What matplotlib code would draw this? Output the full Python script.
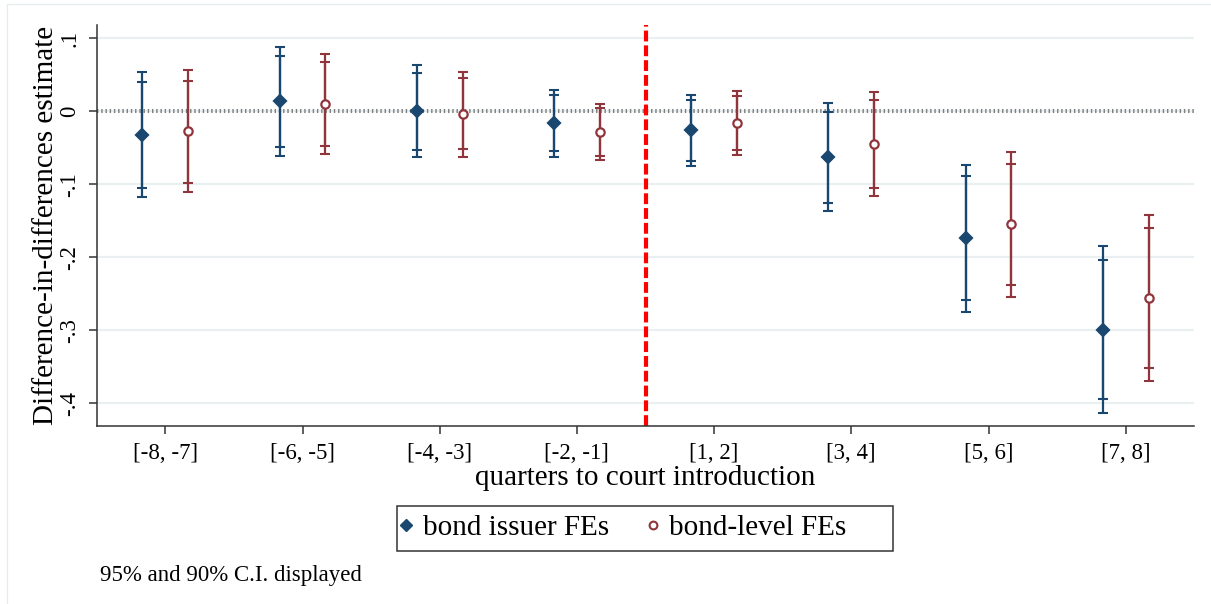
import matplotlib.pyplot as plt
import numpy as np
from matplotlib.patches import Rectangle
from matplotlib.lines import Line2D

plt.rcParams['font.family'] = ['Liberation Serif', 'DejaVu Serif']

periods = ["[-8, -7]", "[-6, -5]", "[-4, -3]", "[-2, -1]", "[1, 2]", "[3, 4]", "[5, 6]", "[7, 8]"]

# bond issuer FEs: point estimate, 90% and 95% bounds
issuer_b = [-0.032, 0.014, 0.000, -0.016, -0.026, -0.062, -0.174, -0.299]
issuer_lo90 = [-0.105, -0.049, -0.053, -0.054, -0.068, -0.125, -0.259, -0.394]
issuer_hi90 = [0.040, 0.076, 0.053, 0.022, 0.015, -0.001, -0.089, -0.203]
issuer_lo95 = [-0.118, -0.061, -0.063, -0.062, -0.075, -0.137, -0.275, -0.413]
issuer_hi95 = [0.054, 0.088, 0.064, 0.029, 0.022, 0.011, -0.073, -0.185]

# bond-level FEs
level_b = [-0.027, 0.010, -0.004, -0.029, -0.016, -0.045, -0.155, -0.256]
level_lo90 = [-0.098, -0.048, -0.052, -0.061, -0.053, -0.105, -0.238, -0.352]
level_hi90 = [0.042, 0.067, 0.045, 0.004, 0.021, 0.015, -0.072, -0.160]
level_lo95 = [-0.111, -0.058, -0.062, -0.067, -0.060, -0.116, -0.254, -0.369]
level_hi95 = [0.056, 0.079, 0.054, 0.010, 0.028, 0.026, -0.056, -0.142]

blue = '#1a476f'
red = '#90353b'

W, H = 1211, 604
fig = plt.figure(figsize=(W / 100, H / 100), dpi=100)
ax = fig.add_axes([0.0799, 0.2947, 0.9063, 0.6631])

x = np.arange(1, len(periods) + 1)
off = 0.167

ax.axhline(0, color='#7f7f7f', lw=2.9, ls=(0, (0.35, 0.7)), zorder=1)
ax.axvline(4.5, color='#ff0000', lw=3.0, ls=(0, (2.6, 0.95)), zorder=2)


def ci_plot(xs, b, lo90, hi90, lo95, hi95, color, marker, face, ms):
    b = np.array(b)
    for lo, hi in [(lo95, hi95), (lo90, hi90)]:
        err = [b - np.array(lo), np.array(hi) - b]
        ax.errorbar(xs, b, yerr=err, fmt='none', ecolor=color, elinewidth=1.6,
                    capsize=3.6, capthick=1.5, zorder=3)
    ax.plot(xs, b, ls='none', marker=marker, ms=ms,
            mfc=face, mec=color, mew=1.6, zorder=4)


ci_plot(x - off, issuer_b, issuer_lo90, issuer_hi90, issuer_lo95, issuer_hi95, blue, 'D', blue, 6.6)
ci_plot(x + off, level_b, level_lo90, level_hi90, level_lo95, level_hi95, red, 'o', 'white', 6.0)

ax.set_xlim(0.5, 8.5)
ax.set_ylim(-0.431, 0.1175)
ax.set_xticks(x)
ax.set_xticklabels(periods, fontsize=16.5)
yt = [0.1, 0, -0.1, -0.2, -0.3, -0.4]
ax.set_yticks(yt)
ax.set_yticklabels(['.1', '0', '-.1', '-.2', '-.3', '-.4'], fontsize=16.5,
                   rotation=90, va='center')
ax.yaxis.grid(True, color='#eaf0f2', lw=1.6)
ax.set_axisbelow(True)
for s in ['top', 'right']:
    ax.spines[s].set_visible(False)
for s in ['left', 'bottom']:
    ax.spines[s].set_color('#333333')
    ax.spines[s].set_linewidth(1.1)
ax.tick_params(axis='both', length=6, width=1.1, color='#333333')
ax.tick_params(axis='x', pad=6)
ax.tick_params(axis='y', pad=6)

ax.set_xlabel('quarters to court introduction', fontsize=21, labelpad=1)
ax.set_ylabel('Difference-in-differences estimate', fontsize=21, labelpad=0)

# legend box drawn by hand: Stata leaves extra room on the right
fig.add_artist(Rectangle((397 / W, 1 - 551 / H), 496 / W, 45 / H,
                         transform=fig.transFigure, fill=False,
                         edgecolor='#333333', lw=1.1))
ly = 1 - 528 / H
fig.add_artist(Line2D([406 / W], [ly + 3 / H], transform=fig.transFigure, ls='none',
                      marker='D', ms=6.4, mfc=blue, mec=blue))
fig.text(423 / W, ly, 'bond issuer FEs', fontsize=21, va='center')
fig.add_artist(Line2D([653 / W], [ly + 3 / H], transform=fig.transFigure, ls='none',
                      marker='o', ms=5.6, mfc='white', mec=red, mew=1.5))
fig.text(669 / W, ly, 'bond-level FEs', fontsize=21, va='center')

fig.text(0.0826, 0.048, '95% and 90% C.I. displayed', fontsize=16.5, va='center')

# thin outer frame
fig.patches.append(Rectangle((7 / W, -0.1), 1.2, 1 - 4 / H + 0.1,
                             transform=fig.transFigure, fill=False,
                             edgecolor='#e6ecef', lw=1.0))

fig.savefig('out.png', dpi=100)
